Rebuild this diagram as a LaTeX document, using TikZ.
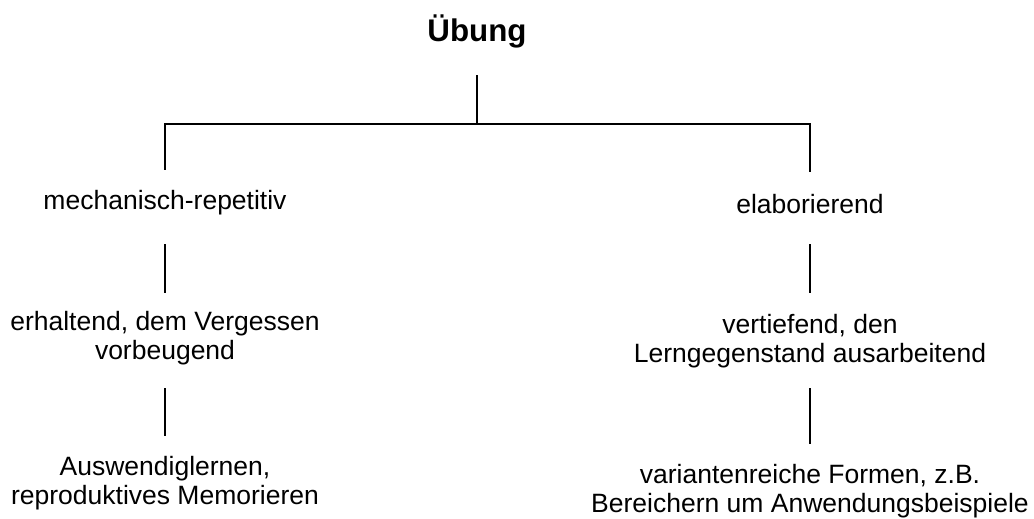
\documentclass[tikz,border=0pt]{standalone}
\usepackage{fontspec}
\setmainfont{Liberation Sans}
\newcommand{\twol}[2]{\begin{tabular}[t]{@{}c@{}}#1\\#2\end{tabular}}
\begin{document}
\begin{tikzpicture}[x=1pt,y=-1pt,
  lab/.style={anchor=base,inner sep=0pt,font=\fontsize{26.5}{29}\selectfont},
  ttl/.style={anchor=base,inner sep=0pt,font=\fontsize{31.3}{34}\selectfont\bfseries},
  conn/.style={line width=1.1pt,line cap=rect}]
\useasboundingbox (0,0) rectangle (1034,519);
\node[ttl] (root) at (477,42) {Übung};
\coordinate (j) at (477,124);
\coordinate (jl) at (165,124);
\coordinate (jr) at (810,124);
\node[lab] (mech) at (165,209) {mechanisch-repetitiv};
\node[lab] (elab) at (810,213) {elaborierend};
\node[lab] (erh) at (165,330) {\twol{erhaltend, dem Vergessen}{vorbeugend}};
\node[lab] (vert) at (810,333) {\twol{vertiefend, den}{Lerngegenstand ausarbeitend}};
\node[lab] (ausw) at (165,475) {\twol{Auswendiglernen,}{reproduktives Memorieren}};
\node[lab] (var) at (810,483) {\twol{variantenreiche Formen, z.B.}{Bereichern um Anwendungsbeispiele}};
\draw[conn] ([yshift=-34pt]root.base) -- (j);
\draw[conn] (jl) -- (jr);
\draw[conn] (jl) -- ([yshift=40pt]mech.base);
\draw[conn] (jr) -- ([yshift=42pt]elab.base);
\draw[conn] ([yshift=-36pt]mech.base) -- ([yshift=38pt]erh.base);
\draw[conn] ([yshift=-59pt]erh.base) -- ([yshift=40pt]ausw.base);
\draw[conn] ([yshift=-32pt]elab.base) -- ([yshift=41pt]vert.base);
\draw[conn] ([yshift=-56pt]vert.base) -- ([yshift=40pt]var.base);
\end{tikzpicture}
\end{document}
